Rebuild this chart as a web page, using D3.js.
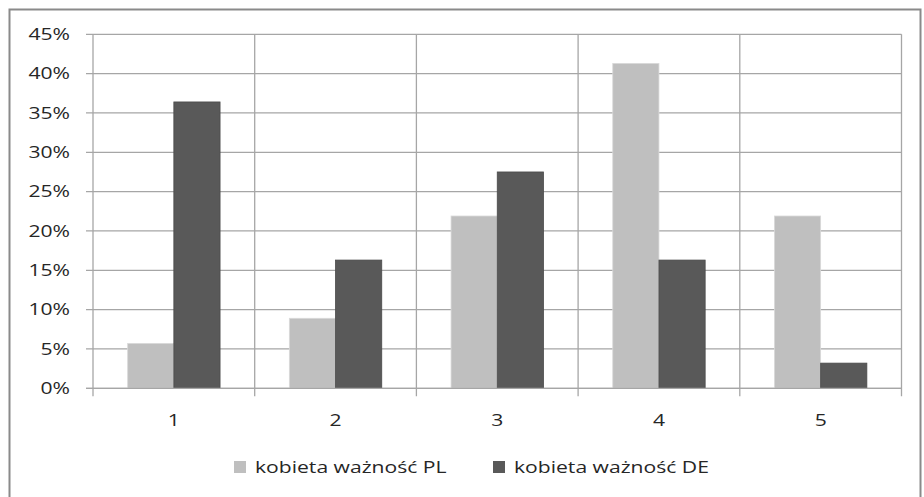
<!DOCTYPE html>
<html>
<head>
<meta charset="utf-8">
<script src="https://cdn.jsdelivr.net/npm/d3@7/dist/d3.min.js"></script>
<style>
  body { margin: 0; background: #fff; }
  svg text { font-family: "Open Sans", "DejaVu Sans", sans-serif; fill: #262626; }
</style>
</head>
<body>
<script>
'use strict';

// categories and series values (percent)
const categories = ["1", "2", "3", "4", "5"];
const seriesNames = ["kobieta ważność PL", "kobieta ważność DE"];
const valuesPL = [5.7, 8.9, 21.9, 41.3, 21.9];
const valuesDE = [36.4, 16.3, 27.5, 16.3, 3.2];
const yTicks = [0, 5, 10, 15, 20, 25, 30, 35, 40, 45];
const colors = ["#bfbfbf", "#595959"];

const W = 924, H = 497;
const plot = { left: 93, right: 901.5, top: 34.3, bottom: 388.3 };
// the original picture is stretched sideways, so the text is too
const stretch = 1.32;

const svg = d3.select("body").append("svg")
    .attr("width", W)
    .attr("height", H);

// place a text at (tx, ty) with the sideways stretch
function stretched(sel, tx, ty) {
    return sel.attr("transform", (d, i) =>
        "translate(" + tx(d, i) + "," + ty(d, i) + ") scale(" + stretch + ",1)");
}

// outer chart border (bottom is cut off by the window)
svg.append("rect")
    .attr("x", 9.5).attr("y", 9.5)
    .attr("width", 911).attr("height", 520)
    .attr("fill", "none")
    .attr("stroke", "#8a8a8a")
    .attr("stroke-width", 2);

const x = d3.scaleBand()
    .domain(categories)
    .range([plot.left, plot.right])
    .padding(0);

const y = d3.scaleLinear()
    .domain([0, 45])
    .range([plot.bottom, plot.top]);

// horizontal gridlines
svg.append("g")
    .selectAll("line")
    .data(yTicks)
    .enter().append("line")
    .attr("x1", plot.left - 7)
    .attr("x2", plot.right)
    .attr("y1", d => y(d))
    .attr("y2", d => y(d))
    .attr("stroke", "#a6a6a6")
    .attr("stroke-width", 1.3);

// vertical gridlines at category boundaries
const bounds = categories.map(c => x(c)).concat([plot.right]);
svg.append("g")
    .selectAll("line")
    .data(bounds)
    .enter().append("line")
    .attr("x1", d => d)
    .attr("x2", d => d)
    .attr("y1", plot.top)
    .attr("y2", plot.bottom + 8)
    .attr("stroke", "#a6a6a6")
    .attr("stroke-width", 1.3);

// y tick labels
stretched(svg.append("g")
    .selectAll("text")
    .data(yTicks)
    .enter().append("text")
    .attr("dy", "0.35em")
    .attr("text-anchor", "end")
    .style("font-size", "16px")
    .text(d => d + "%"), () => 70, d => y(d));

// x tick labels
stretched(svg.append("g")
    .selectAll("text")
    .data(categories)
    .enter().append("text")
    .attr("dy", "0.35em")
    .attr("text-anchor", "middle")
    .style("font-size", "16px")
    .text(d => d), d => x(d) + x.bandwidth() / 2, () => 420);

// bars: gap width 150% like the original
const barW = x.bandwidth() / 3.5;
const series = [valuesPL, valuesDE];

series.forEach((vals, si) => {
    svg.append("g")
        .selectAll("rect")
        .data(vals)
        .enter().append("rect")
        .attr("x", (d, i) => x(categories[i]) + barW * 0.75 + si * barW)
        .attr("y", d => y(d))
        .attr("width", barW)
        .attr("height", d => y(0) - y(d))
        .attr("fill", colors[si])
        .attr("stroke", si === 0 ? "#d9d9d9" : "#4a4a4a")
        .attr("stroke-width", 0.8);
});

// redraw the baseline on top
svg.append("line")
    .attr("x1", plot.left - 7).attr("x2", plot.right)
    .attr("y1", y(0)).attr("y2", y(0))
    .attr("stroke", "#a6a6a6")
    .attr("stroke-width", 1.3);

// legend
const legendX = [234, 493];
const legend = svg.append("g");
seriesNames.forEach((name, i) => {
    legend.append("rect")
        .attr("x", legendX[i])
        .attr("y", 461)
        .attr("width", 12)
        .attr("height", 12)
        .attr("fill", colors[i]);
    stretched(legend.append("text")
        .datum(name)
        .attr("dy", "0.35em")
        .style("font-size", "16px")
        .text(name), () => legendX[i] + 21, () => 467);
});
</script>
</body>
</html>
